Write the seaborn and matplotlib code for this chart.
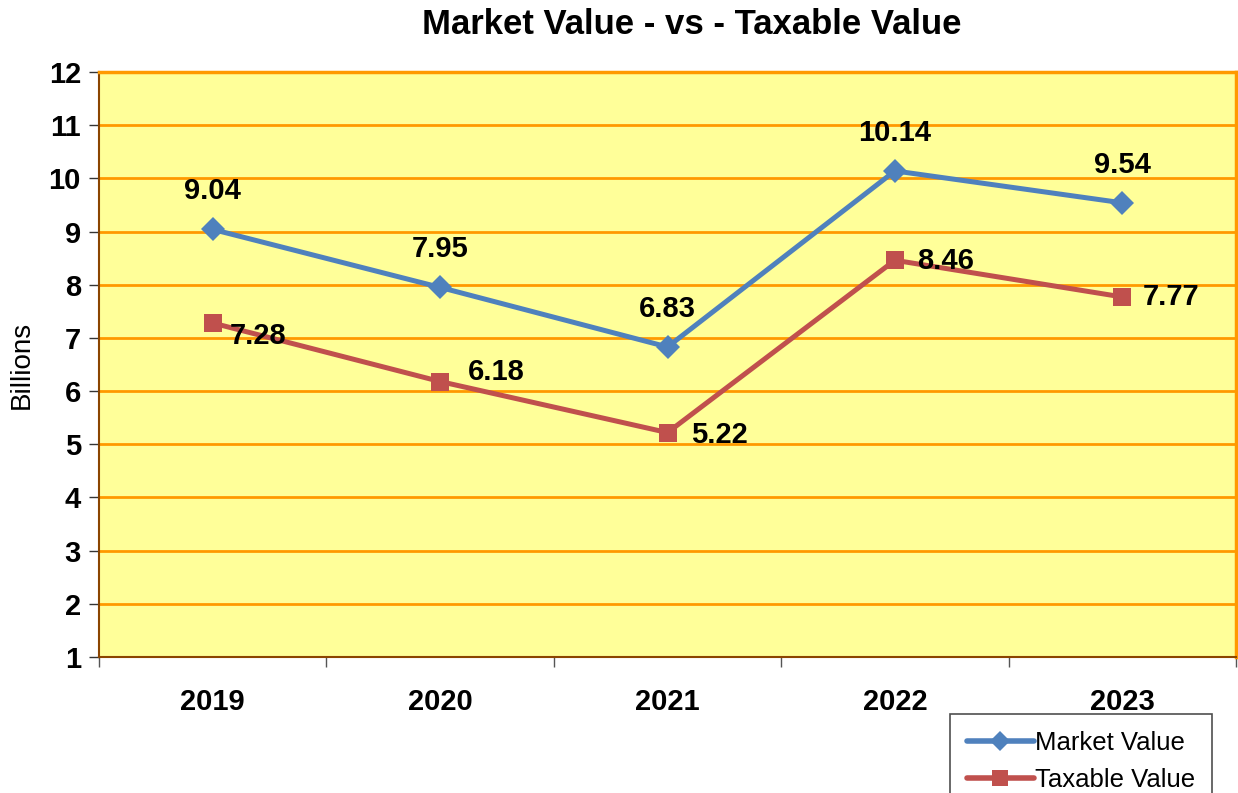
import matplotlib
matplotlib.use("Agg")
import matplotlib.pyplot as plt
import seaborn as sns
import pandas as pd
from matplotlib.lines import Line2D

# Chart data
years = ["2019", "2020", "2021", "2022", "2023"]
market_value = [9.04, 7.95, 6.83, 10.14, 9.54]
taxable_value = [7.28, 6.18, 5.22, 8.46, 7.77]

df = pd.DataFrame({
    "year": years * 2,
    "value": market_value + taxable_value,
    "series": ["Market Value"] * len(years) + ["Taxable Value"] * len(years),
})

sns.set_style("white")
plt.rcParams["font.family"] = ["Liberation Sans", "DejaVu Sans"]
plt.rcParams["text.color"] = "black"
plt.rcParams["axes.labelcolor"] = "black"
plt.rcParams["xtick.color"] = "black"
plt.rcParams["ytick.color"] = "black"

fig = plt.figure(figsize=(12.38, 7.93), dpi=100)
ax = fig.add_axes([99 / 1238, 1 - 657 / 793, (1236 - 99) / 1238, (657 - 72) / 793])

palette = {"Market Value": "#4F81BD", "Taxable Value": "#C0504D"}
sns.lineplot(data=df, x="year", y="value", hue="series", style="series",
             markers={"Market Value": "D", "Taxable Value": "s"}, dashes=False,
             palette=palette, linewidth=3.6, markersize=12.5, markeredgewidth=0,
             sort=False, ax=ax, legend=False)

ax.set_facecolor("#FFFF99")
ax.set_xlim(-0.5, 4.5)
ax.set_ylim(1, 12)
ax.set_yticks(range(1, 13))
ax.grid(axis="y", color="#FF9900", linewidth=2)
ax.set_axisbelow(True)
for side in ["top", "right"]:
    ax.spines[side].set_color("#FF9900")
    ax.spines[side].set_linewidth(2.5)
for side in ["left", "bottom"]:
    ax.spines[side].set_color("#8B4500")
    ax.spines[side].set_linewidth(1.5)

ax.set_xticks(range(5))
ax.set_xticklabels(years, fontsize=21, fontweight="bold")
ax.tick_params(axis="x", which="major", bottom=False, length=0, pad=22)
ax.set_xticks([i - 0.5 for i in range(6)], minor=True)
ax.tick_params(axis="x", which="minor", bottom=True, length=7, width=1, color="#555555", direction="out")
ax.tick_params(axis="y", left=True, labelsize=21, length=7, width=1, color="#333333", direction="out", pad=6)
for lbl in ax.get_yticklabels():
    lbl.set_fontweight("bold")

ax.set_xlabel("")
ax.set_ylabel("Billions", fontsize=20, labelpad=10)
ax.set_title("Market Value - vs - Taxable Value", fontsize=25, fontweight="bold", pad=27, x=0.5215)

# data labels
tax_offsets = [(45, -13), (56, 10), (52, -2), (51, -1), (49, 0)]
for i, v in enumerate(market_value):
    ax.annotate(f"{v:.2f}", (i, v), xytext=(0, 38), textcoords="offset pixels",
                ha="center", va="center", fontsize=21, fontweight="bold")
for i, v in enumerate(taxable_value):
    ax.annotate(f"{v:.2f}", (i, v), xytext=tax_offsets[i], textcoords="offset pixels",
                ha="center", va="center", fontsize=21, fontweight="bold")

# legend, partly cut off at the bottom as in the source
handles = [Line2D([], [], color=palette["Market Value"], marker="D", lw=4, ms=10, mew=0),
           Line2D([], [], color=palette["Taxable Value"], marker="s", lw=4, ms=12, mew=0)]
leg = fig.legend(handles, ["Market Value", "Taxable Value"], loc="upper left",
                 bbox_to_anchor=(950 / 1238, 1 - 714 / 793), borderaxespad=0,
                 fontsize=18.5, frameon=True, fancybox=False, edgecolor="#222222",
                 handlelength=2.6, handletextpad=0.05, borderpad=0.65, labelspacing=0.5)
leg.get_frame().set_linewidth(1.2)

fig.savefig("out.png", dpi=100)
